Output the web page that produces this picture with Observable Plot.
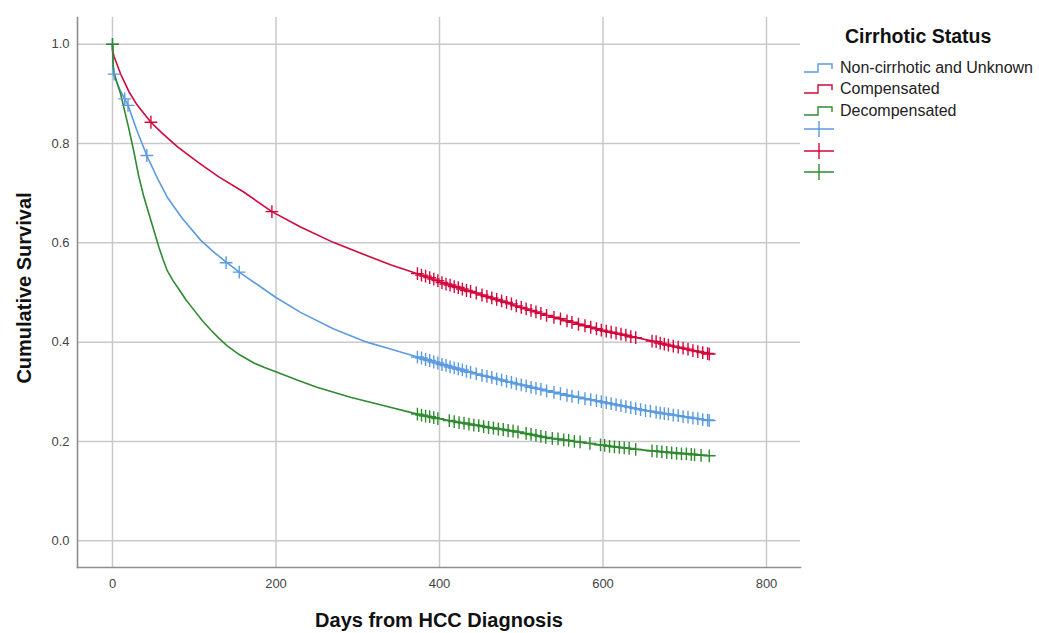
<!DOCTYPE html>
<html>
<head>
<meta charset="utf-8">
<script src="https://cdn.jsdelivr.net/npm/d3@7"></script>
<script src="https://cdn.jsdelivr.net/npm/@observablehq/plot@0.6"></script>
<style>
  html, body { margin: 0; padding: 0; background: #fff; }
  body { font-family: "Liberation Sans", Arial, sans-serif; }
  #wrap { position: relative; width: 1039px; height: 633px; overflow: hidden; }
  #chart { position: absolute; left: 0; top: 0; }
  .axis-title { position: absolute; font-weight: bold; font-size: 20px; color: #111; white-space: nowrap; }
  #xtitle { left: 439px; top: 620px; transform: translate(-50%, -50%); }
  #ytitle { left: 24px; top: 288px; transform: translate(-50%, -50%) rotate(-90deg); }
  #legend { position: absolute; left: 803px; top: 24px; font-size: 16px; color: #222; }
  #legend .ttl { font-weight: bold; font-size: 19.5px; color: #111; margin-left: 42px; height: 24px; line-height: 24px; margin-bottom: 9px; }
  #legend .row { display: flex; align-items: center; height: 21.6px; }
  #legend .row.first-plus { margin-top: -3.5px; }
  #legend svg { display: block; margin-right: 5px; }
</style>
</head>
<body>
<div id="wrap">
  <div id="chart"></div>
  <div id="xtitle" class="axis-title">Days from HCC Diagnosis</div>
  <div id="ytitle" class="axis-title">Cumulative Survival</div>
  <div id="legend"></div>
</div>
<script>
// ---- data ----
const groups = ["Non-cirrhotic and Unknown", "Compensated", "Decompensated"];
const colors = ["#5b9be0", "#d2083c", "#2f8a30"];
const xTicks = [0, 200, 400, 600, 800];
const yTicks = [0.0, 0.2, 0.4, 0.6, 0.8, 1.0];

// survival curves [day, survival]
const nonCirrhoticCurve = [[0,1.0],[1,0.94],[5,0.925],[10,0.905],[15,0.89],[19,0.877],[30,0.826],[42,0.776],[55,0.73],[67,0.692],[85,0.65],[108,0.605],[125,0.58],[140,0.56],[155,0.541],[185,0.507],[199,0.491],[230,0.46],[270,0.427],[311,0.40],[340,0.386],[373,0.37],[401,0.356],[450,0.334],[500,0.314],[531,0.302],[560,0.292],[601,0.279],[630,0.27],[660,0.26],[700,0.25],[730,0.242]];
const compensatedCurve = [[0,1.0],[0.5,0.985],[2,0.975],[10,0.94],[20,0.905],[30,0.878],[47,0.843],[60,0.822],[80,0.793],[104,0.763],[130,0.733],[160,0.703],[195,0.663],[230,0.632],[270,0.601],[310,0.575],[340,0.556],[373,0.538],[401,0.521],[450,0.496],[500,0.47],[531,0.454],[560,0.441],[601,0.423],[630,0.413],[658,0.403],[690,0.39],[730,0.376]];
const decompensatedCurve = [[0,1.0],[1,0.95],[5,0.925],[10,0.9],[15,0.865],[20,0.83],[26,0.785],[32,0.735],[38,0.695],[47,0.645],[57,0.59],[62,0.566],[67,0.544],[74,0.524],[81,0.507],[90,0.485],[100,0.464],[110,0.443],[120,0.425],[130,0.408],[140,0.393],[155,0.375],[173,0.358],[186,0.349],[199,0.341],[225,0.324],[250,0.309],[291,0.289],[330,0.273],[373,0.255],[401,0.245],[450,0.231],[500,0.218],[531,0.208],[560,0.201],[601,0.192],[630,0.186],[660,0.181],[700,0.176],[730,0.171]];

// censored observations [day, survival]
const nonCirrhoticCensor = [[0,1.0],[2,0.94],[15,0.89],[19,0.877],[42,0.776],[139,0.56],[155,0.541],[373,0.37],[378,0.368],[383,0.365],[388,0.363],[393,0.36],[398,0.358],[403,0.355],[408,0.353],[413,0.35],[418,0.348],[423,0.346],[428,0.344],[433,0.341],[438,0.339],[445,0.336],[452,0.333],[458,0.331],[464,0.329],[470,0.326],[476,0.324],[482,0.321],[488,0.319],[494,0.316],[500,0.314],[506,0.312],[512,0.309],[518,0.307],[524,0.305],[531,0.302],[540,0.299],[548,0.296],[556,0.293],[562,0.291],[570,0.289],[578,0.286],[585,0.284],[592,0.282],[598,0.28],[604,0.278],[610,0.276],[616,0.274],[622,0.272],[628,0.27],[634,0.268],[640,0.266],[646,0.264],[652,0.262],[658,0.261],[665,0.259],[670,0.257],[675,0.256],[680,0.255],[686,0.253],[692,0.252],[698,0.25],[704,0.249],[710,0.247],[716,0.246],[722,0.244],[728,0.243],[730,0.242]];
const compensatedCensor = [[47,0.843],[195,0.663],[373,0.538],[378,0.535],[383,0.533],[388,0.53],[393,0.527],[398,0.524],[403,0.52],[408,0.517],[413,0.515],[418,0.512],[423,0.51],[428,0.507],[433,0.504],[438,0.502],[445,0.499],[452,0.495],[458,0.492],[464,0.489],[470,0.486],[476,0.483],[482,0.48],[488,0.477],[494,0.473],[500,0.47],[506,0.467],[512,0.464],[518,0.461],[524,0.458],[531,0.454],[540,0.45],[548,0.447],[556,0.443],[562,0.44],[570,0.436],[578,0.433],[585,0.43],[592,0.427],[598,0.424],[604,0.422],[610,0.42],[616,0.418],[622,0.416],[628,0.414],[634,0.411],[640,0.409],[660,0.402],[665,0.401],[670,0.398],[675,0.396],[680,0.394],[686,0.392],[692,0.39],[698,0.388],[704,0.386],[710,0.383],[716,0.381],[722,0.379],[728,0.377],[730,0.376]];
const decompensatedCensor = [[0,1.0],[373,0.255],[378,0.253],[383,0.251],[388,0.25],[393,0.248],[398,0.246],[412,0.242],[418,0.24],[424,0.238],[430,0.237],[436,0.235],[442,0.233],[448,0.232],[454,0.23],[460,0.228],[466,0.227],[472,0.225],[478,0.224],[484,0.222],[490,0.221],[496,0.219],[506,0.216],[512,0.214],[518,0.212],[524,0.21],[530,0.208],[538,0.206],[545,0.205],[552,0.203],[558,0.202],[565,0.2],[572,0.199],[584,0.196],[597,0.193],[602,0.192],[608,0.19],[614,0.189],[620,0.188],[626,0.187],[632,0.186],[640,0.184],[660,0.181],[666,0.18],[672,0.179],[678,0.178],[684,0.177],[690,0.176],[696,0.175],[702,0.175],[708,0.174],[712,0.173],[720,0.172],[730,0.171]];

// ---- build tables ----
const curves = [nonCirrhoticCurve, compensatedCurve, decompensatedCurve];
const censors = [nonCirrhoticCensor, compensatedCensor, decompensatedCensor];
const lineData = curves.flatMap((c, i) => c.map(([d, s]) => ({day: d, surv: s, group: groups[i]})));
const censorData = censors.flatMap((c, i) => c.map(([d, s]) => ({day: d, surv: s, group: groups[i]})));

const color = {domain: groups, range: colors};

const chart = Plot.plot({
  width: 1039,
  height: 633,
  marginLeft: 77,
  marginRight: 239,
  marginTop: 17,
  marginBottom: 66,
  style: {fontFamily: "'Liberation Sans', Arial, sans-serif", fontSize: "13px", color: "#444", background: "#fff"},
  x: {domain: [-42.8, 841.6], ticks: xTicks},
  y: {domain: [-0.054, 1.054], ticks: yTicks},
  color,
  marks: [
    Plot.gridX(xTicks, {stroke: "#c9c9c9", strokeOpacity: 1, strokeWidth: 1.5}),
    Plot.gridY(yTicks, {stroke: "#c9c9c9", strokeOpacity: 1, strokeWidth: 1.5}),
    Plot.frame({anchor: "left", stroke: "#8e8e8e", strokeWidth: 1.6}),
    Plot.frame({anchor: "bottom", stroke: "#8e8e8e", strokeWidth: 1.6}),
    Plot.axisX(xTicks, {tickSize: 0, tickPadding: 11, label: null, tickFormat: d3.format("d")}),
    Plot.axisY(yTicks, {tickSize: 0, tickPadding: 8, label: null, tickFormat: d3.format(".1f")}),
    Plot.line(lineData, {x: "day", y: "surv", z: "group", stroke: "group", strokeWidth: 1.6, curve: "linear"}),
    Plot.dot(censorData, {x: "day", y: "surv", stroke: "group", symbol: "plus", r: 4.2, strokeWidth: 1.4})
  ]
});
document.getElementById("chart").appendChild(chart);

// ---- legend ----
const legend = document.getElementById("legend");
const ttl = document.createElement("div");
ttl.className = "ttl";
ttl.textContent = "Cirrhotic Status";
legend.appendChild(ttl);
groups.forEach((g, i) => {
  const row = document.createElement("div");
  row.className = "row";
  row.innerHTML = `<svg width="32" height="14"><path d="M1,11 H15 V3 H29 V8" fill="none" stroke="${colors[i]}" stroke-width="1.4"/></svg><span>${g}</span>`;
  legend.appendChild(row);
});
groups.forEach((g, i) => {
  const row = document.createElement("div");
  row.className = i === 0 ? "row first-plus" : "row";
  row.innerHTML = `<svg width="32" height="18"><path d="M1,9 H31 M16,1 V17" fill="none" stroke="${colors[i]}" stroke-width="1.4"/></svg>`;
  legend.appendChild(row);
});
</script>
</body>
</html>
